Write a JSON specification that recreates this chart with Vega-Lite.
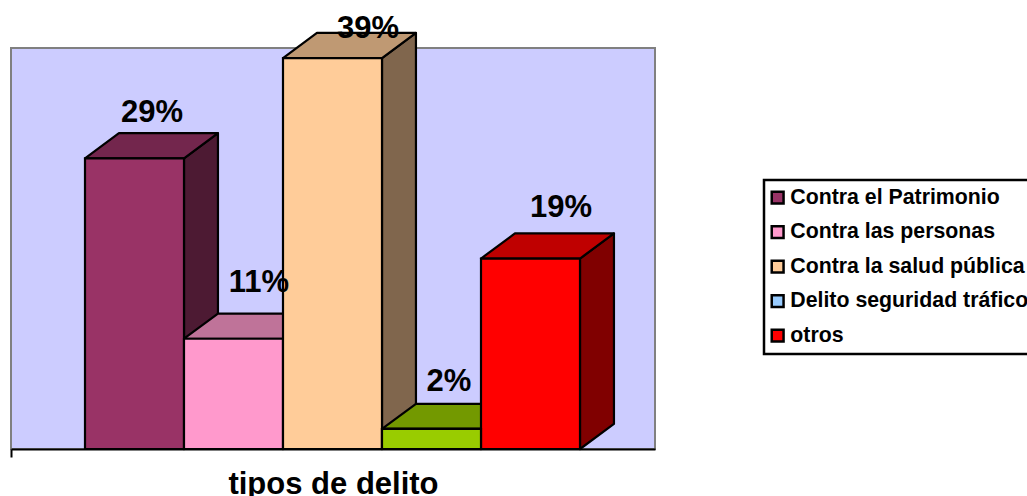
{
"$schema":"https://vega.github.io/schema/vega-lite/v6.json",
"width":644,"height":401,
"autosize":{"type":"none"},
"padding":{"left":11,"top":48,"right":372,"bottom":47},
"background":"white",
"config":{"view":{"fill":"#CCCCFF","stroke":"#808080","strokeWidth":2},"font":"Liberation Sans",
"legend":{"strokeWidth":2.5},
"axisX":{"labels":false,"grid":false,"ticks":true,"tickColor":"black","tickWidth":2,"tickSize":8,"domainColor":"black","domainWidth":2.2,"titleFont":"Liberation Sans","titleFontSize":31,"titleFontWeight":"bold","titleColor":"black","titlePadding":11}},
"data":{"values":[
{"tipo":"Contra el Patrimonio","orden":0,"pct":29},
{"tipo":"Contra las personas","orden":1,"pct":11},
{"tipo":"Contra la salud pública","orden":2,"pct":39},
{"tipo":"Delito seguridad tráfico","orden":3,"pct":2},
{"tipo":"otros","orden":4,"pct":19}
]},
"transform":[
{"calculate":"datum.orden+1","as":"fin"},
{"calculate":"0","as":"base"},
{"calculate":"datum.pct+'%'","as":"etiqueta"},
{"calculate":"[0,1]","as":"t"},
{"flatten":["t"]},
{"calculate":"datum.fin+datum.t*0.343","as":"ladoX"},
{"calculate":"datum.pct+datum.t*2.5","as":"ladoY"},
{"calculate":"datum.t*2.5","as":"ladoY2"},
{"calculate":"datum.orden+datum.t*0.343","as":"topeX"},
{"calculate":"datum.orden+0.5","as":"centro"}
],
"resolve":{"scale":{"color":"independent"}},
"layer":[
{"mark":{"type":"area","stroke":"black","strokeWidth":2.2,"strokeJoin":"round"},
"encoding":{
"x":{"field":"ladoX","type":"quantitative","scale":{"domain":[-0.7475,5.7576],"nice":false,"zero":false},"axis":{"values":[-0.7475],"title":"tipos de delito"}},
"y":{"field":"ladoY","type":"quantitative","scale":{"domain":[0,40],"nice":false},"axis":null},
"y2":{"field":"ladoY2"},
"color":{"field":"tipo","type":"nominal","legend":null,"scale":{"domain":["Contra el Patrimonio","Contra las personas","Contra la salud pública","Delito seguridad tráfico","otros"],"range":["#4D1A33","#804C66","#80664D","#4D6600","#800000"]}}
}},
{"mark":{"type":"area","orient":"horizontal","stroke":"black","strokeWidth":2.2,"strokeJoin":"round"},
"transform":[{"calculate":"datum.fin+datum.t*0.343","as":"topeX2"}],
"encoding":{
"x":{"field":"topeX","type":"quantitative","axis":{"values":[-0.7475],"title":"tipos de delito"}},
"x2":{"field":"topeX2"},
"y":{"field":"ladoY","type":"quantitative","axis":null},
"color":{"field":"tipo","type":"nominal","legend":null,"scale":{"domain":["Contra el Patrimonio","Contra las personas","Contra la salud pública","Delito seguridad tráfico","otros"],"range":["#73264D","#BF7399","#BF9973","#739900","#BF0000"]}}
}},
{"mark":{"type":"rect","stroke":"black","strokeWidth":2.2},
"transform":[{"filter":"datum.t==0"}],
"encoding":{
"x":{"field":"orden","type":"quantitative","axis":{"values":[-0.7475],"title":"tipos de delito"}},
"x2":{"field":"fin"},
"y":{"field":"pct","type":"quantitative","axis":null},
"y2":{"field":"base"},
"color":{"field":"tipo","type":"nominal","scale":{"domain":["Contra el Patrimonio","Contra las personas","Contra la salud pública","Delito seguridad tráfico","otros"],"range":["#993366","#FF99CC","#FFCC99","#99CCFF","#FF0000"]},
"legend":{"title":null,"orient":"none","legendX":753,"legendY":132,"strokeColor":"black","fillColor":"white","padding":7,"symbolType":"square","symbolSize":140,"symbolStrokeColor":"black","symbolStrokeWidth":2.5,"symbolOpacity":1,"symbolOffset":-4,"labelFont":"Liberation Sans","labelFontSize":21.3,"labelFontWeight":"bold","labelColor":"black","rowPadding":11.5,"labelOffset":2,"labelLimit":400}}
}},
{"mark":{"type":"rect","stroke":"black","strokeWidth":2.2,"fill":"#99CC00"},
"transform":[{"filter":"datum.t==0 && datum.tipo=='Delito seguridad tráfico'"}],
"encoding":{
"x":{"field":"orden","type":"quantitative","axis":{"values":[-0.7475],"title":"tipos de delito"}},
"x2":{"field":"fin"},
"y":{"field":"pct","type":"quantitative","axis":null},
"y2":{"field":"base"}
}},
{"mark":{"type":"text","font":"Liberation Sans","fontWeight":"bold","fontSize":31,"color":"black","dx":17.5,"dy":-45,"baseline":"middle"},
"transform":[{"filter":"datum.t==0 && datum.orden==0"}],
"encoding":{"x":{"field":"centro","type":"quantitative","axis":{"values":[-0.7475],"title":"tipos de delito"}},"y":{"field":"pct","type":"quantitative","axis":null},"text":{"field":"etiqueta"}}},
{"mark":{"type":"text","font":"Liberation Sans","fontWeight":"bold","fontSize":31,"color":"black","dx":25.5,"dy":-56,"baseline":"middle"},
"transform":[{"filter":"datum.t==0 && datum.orden==1"}],
"encoding":{"x":{"field":"centro","type":"quantitative","axis":{"values":[-0.7475],"title":"tipos de delito"}},"y":{"field":"pct","type":"quantitative","axis":null},"text":{"field":"etiqueta"}}},
{"mark":{"type":"text","font":"Liberation Sans","fontWeight":"bold","fontSize":31,"color":"black","dx":35.5,"dy":-29,"baseline":"middle"},
"transform":[{"filter":"datum.t==0 && datum.orden==2"}],
"encoding":{"x":{"field":"centro","type":"quantitative","axis":{"values":[-0.7475],"title":"tipos de delito"}},"y":{"field":"pct","type":"quantitative","axis":null},"text":{"field":"etiqueta"}}},
{"mark":{"type":"text","font":"Liberation Sans","fontWeight":"bold","fontSize":31,"color":"black","dx":17.5,"dy":-47,"baseline":"middle"},
"transform":[{"filter":"datum.t==0 && datum.orden==3"}],
"encoding":{"x":{"field":"centro","type":"quantitative","axis":{"values":[-0.7475],"title":"tipos de delito"}},"y":{"field":"pct","type":"quantitative","axis":null},"text":{"field":"etiqueta"}}},
{"mark":{"type":"text","font":"Liberation Sans","fontWeight":"bold","fontSize":31,"color":"black","dx":30.5,"dy":-50.5,"baseline":"middle"},
"transform":[{"filter":"datum.t==0 && datum.orden==4"}],
"encoding":{"x":{"field":"centro","type":"quantitative","axis":{"values":[-0.7475],"title":"tipos de delito"}},"y":{"field":"pct","type":"quantitative","axis":null},"text":{"field":"etiqueta"}}}
]
}
